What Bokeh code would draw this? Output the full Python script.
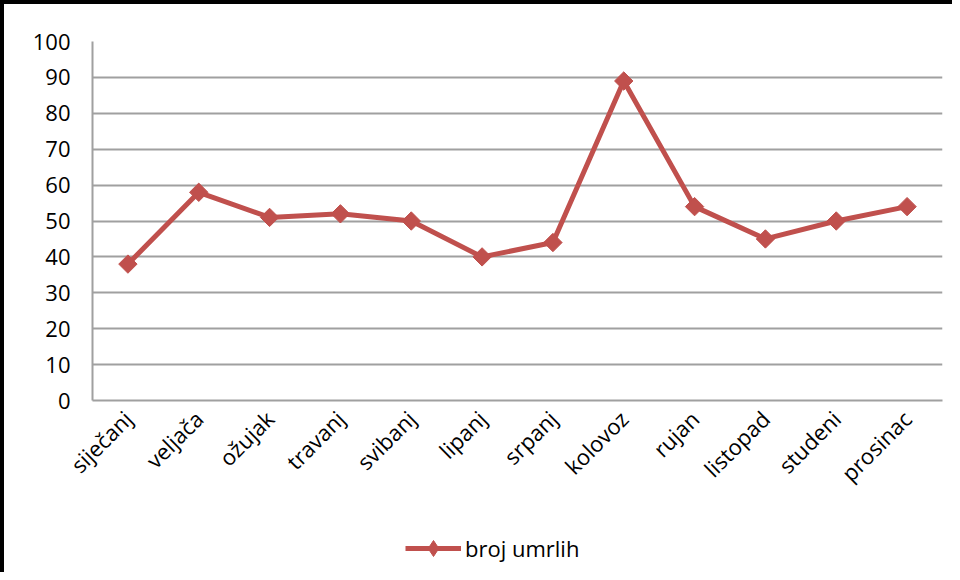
import math
from bokeh.plotting import figure
from bokeh.layouts import column
from bokeh.models import Legend, LegendItem, FactorRange, Range1d, FixedTicker
from bokeh.embed import file_html
from bokeh.resources import INLINE

months = ["siječanj", "veljača", "ožujak", "travanj", "svibanj", "lipanj",
          "srpanj", "kolovoz", "rujan", "listopad", "studeni", "prosinac"]
deaths = [38, 58, 51, 52, 50, 40, 44, 89, 54, 45, 50, 54]
series_name = "broj umrlih"
y_ticks = [0, 10, 20, 30, 40, 50, 60, 70, 80, 90, 100]

RED = "#C0504D"
GRID = "#a0a0a0"
FONT = "Open Sans"

# ---- main chart ----
p = figure(width=948, height=500, x_range=FactorRange(*months),
           y_range=Range1d(0, 100), output_backend="svg",
           toolbar_location=None, min_border_left=88, min_border_right=10,
           min_border_top=37, min_border_bottom=104)
p.outline_line_color = None
p.background_fill_color = "white"
p.border_fill_color = "white"

p.xgrid.grid_line_color = None
p.ygrid.grid_line_color = GRID
p.ygrid.grid_line_width = 2
p.yaxis.ticker = FixedTicker(ticks=y_ticks)

for ax in (p.xaxis, p.yaxis):
    ax.axis_line_color = GRID
    ax.axis_line_width = 2
    ax.major_tick_line_color = None
    ax.minor_tick_line_color = None
    ax.major_tick_out = 0
    ax.major_tick_in = 0
    ax.major_label_text_font = FONT
    ax.major_label_text_font_size = "22px"
    ax.major_label_text_color = "black"
p.yaxis.major_label_standoff = 22
p.xaxis.major_label_standoff = 14
p.xaxis.major_label_orientation = math.pi / 4

p.line(months, deaths, line_color=RED, line_width=5)
p.scatter(months, deaths, marker="square", angle=math.pi / 4, size=13,
          fill_color=RED, line_color=RED)

# ---- legend strip ----
lp = figure(width=948, height=68, x_range=FactorRange(*months),
            y_range=Range1d(0, 100), output_backend="svg",
            toolbar_location=None, x_axis_type=None, y_axis_type=None,
            min_border=0)
lp.outline_line_color = None
lp.grid.visible = False
lg_line = lp.line(months, deaths, line_color=RED, line_width=5, visible=False)
lg_pts = lp.scatter(months, deaths, marker="diamond", size=18,
                    fill_color=RED, line_color=RED, visible=False)

legend = Legend(items=[LegendItem(label=series_name, renderers=[lg_line, lg_pts])],
                location=(313, 4), orientation="horizontal",
                label_text_font=FONT, label_text_font_size="22px",
                label_text_color="black",
                glyph_width=56, glyph_height=40, label_standoff=4,
                border_line_color=None, background_fill_alpha=0,
                inactive_fill_alpha=0, padding=0, margin=0)
lp.add_layout(legend, "center")

layout = column(p, lp, spacing=0,
                styles={"border-top": "4px solid black",
                        "border-left": "4px solid black"})

open("out.html", "w").write(file_html(layout, INLINE))
